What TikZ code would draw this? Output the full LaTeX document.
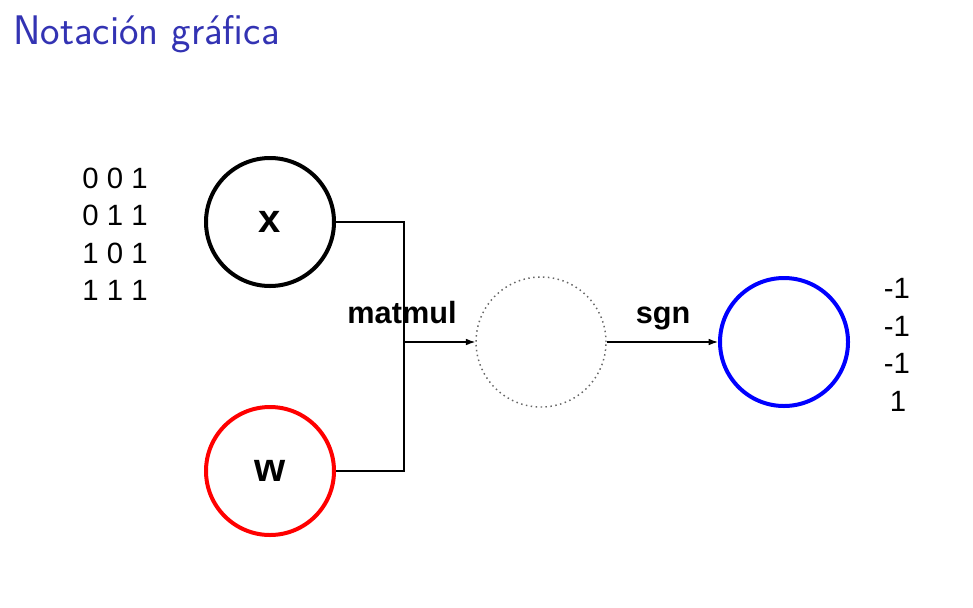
\documentclass[tikz,border=0pt]{standalone}
\usepackage{fontspec}
\setmainfont{Liberation Sans}
\usetikzlibrary{arrows.meta}
\definecolor{titleblue}{RGB}{51,51,179}

\begin{document}
\begin{tikzpicture}[x=0.75pt,y=-0.75pt]

        \tikzstyle{unit}=[circle,draw,line width=3pt,minimum size=96pt,inner sep=0pt,font=\fontsize{30}{34}\selectfont\bfseries]
        \tikzstyle{hidden}=[circle,draw=black!60,line width=1.1pt,dash pattern=on 1.1pt off 2.6pt,minimum size=97.5pt,inner sep=0pt]
        \tikzstyle{num}=[inner sep=0pt,font=\fontsize{22}{26}\selectfont]
        \tikzstyle{oplabel}=[anchor=base,inner sep=0pt,font=\fontsize{23}{27}\selectfont\bfseries]
        \tikzstyle{wire}=[line width=0.9pt]

        \useasboundingbox (0,0) rectangle (973,607);

        %% Title
        \node[anchor=base west,inner sep=0pt,text=titleblue,font=\sffamily\fontsize{31}{36}\selectfont] (title) at (13,44) {Notación gráfica};

        %% Input data
        \node[num] (in1) at (115,178) {0 0 1};
        \node[num] (in2) at (115,215) {0 1 1};
        \node[num] (in3) at (115,253) {1 0 1};
        \node[num] (in4) at (115,290) {1 1 1};

        %% Units
        \node[unit] (x) at (270,222) {x};
        \node[unit,draw=red] (w) at (270,471) {w};
        \node[hidden] (h) at (541,342) {};
        \node[unit,draw=blue] (y) at (784,342) {};

        %% Output data
        \node[num] (out1) at (897,288) {-1};
        \node[num] (out2) at (897,326) {-1};
        \node[num] (out3) at (897,363) {-1};
        \node[num] (out4) at (898,401) {1};

        %% Connections
        \coordinate (join) at (404,342);
        \draw[wire] (x.east) -| (join);
        \draw[wire] (w.east) -| (join);
        \draw[wire,-{Latex[length=7pt,width=5pt]}] (join) -- (h.west);
        \draw[wire,-{Latex[length=7pt,width=5pt]}] (h.east) -- (y.west);

        \node[oplabel] (matmul) at (402,323) {matmul};
        \node[oplabel] (sgn) at (663,323) {sgn};

    \end{tikzpicture}
\end{document}
